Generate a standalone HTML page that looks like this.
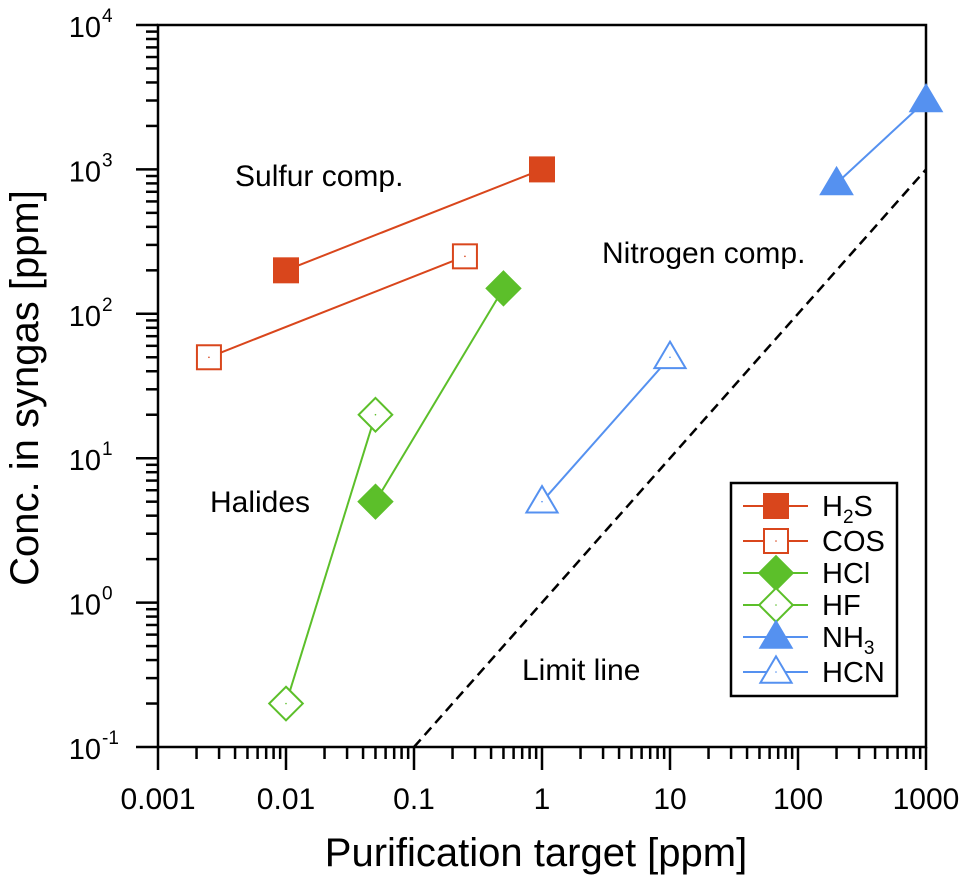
<!DOCTYPE html>
<html><head><meta charset="utf-8"><style>
body{margin:0;background:#fff}
svg{display:block;font-family:"Liberation Sans",Arial,sans-serif}
</style></head><body>
<svg id="chart" width="963" height="883" viewBox="0 0 963 883"></svg>
<script>
const xTickVals=[0.001,0.01,0.1,1,10,100,1000];
const xTickLabels=["0.001","0.01","0.1","1","10","100","1000"];
const yTickExps=[-1,0,1,2,3,4];
const seriesNames=["H2S","COS","HCl","HF","NH3","HCN"];
const h2sX=[0.01,1], h2sY=[200,1000];
const cosX=[0.0025,0.25], cosY=[50,250];
const hclX=[0.05,0.5], hclY=[5,150];
const hfX=[0.01,0.05], hfY=[0.2,20];
const nh3X=[200,1000], nh3Y=[800,3000];
const hcnX=[1,10], hcnY=[5,50];
const limitX=[0.1,1000], limitY=[0.1,1000];

const L=158,R=926,T=25,B=747;
const NS="http://www.w3.org/2000/svg";
const svg=document.getElementById('chart');
function xs(v){return L+(Math.log10(v)+3)/6*(R-L);}
function ys(v){return B-(Math.log10(v)+1)/5*(B-T);}
function mk(tag,attrs,parent){const e=document.createElementNS(NS,tag);for(const k in attrs)e.setAttribute(k,attrs[k]);(parent||svg).appendChild(e);return e;}
const OR="#d9461c",GR="#5cbf2a",BL="#5591f0";

const ticks=mk('g',{});


for(let d=-3;d<3;d++){for(let m=1;m<10;m++){const v=m*Math.pow(10,d);const x=xs(v);mk('line',{x1:x,x2:x,y1:B,y2:B+(m==1?23:12),stroke:'#000','stroke-width':2.5},ticks);}}
mk('line',{x1:R,x2:R,y1:B,y2:B+23,stroke:'#000','stroke-width':2.5},ticks);
for(let d=-1;d<4;d++){for(let m=1;m<10;m++){const v=m*Math.pow(10,d);const y=ys(v);mk('line',{x1:L,x2:L-(m==1?22:12),y1:y,y2:y,stroke:'#000','stroke-width':2.5},ticks);}}
mk('line',{x1:L,x2:L-22,y1:T,y2:T,stroke:'#000','stroke-width':2.5},ticks);

const frame=mk('rect',{x:L,y:T,width:R-L,height:B-T,fill:'none',stroke:'#000','stroke-width':2.5});



xTickVals.forEach((v,i)=>{const t=mk('text',{x:xs(v),y:809,'font-size':30,'text-anchor':'middle'});t.textContent=xTickLabels[i];

});
yTickExps.forEach(e=>{const y=ys(Math.pow(10,e));const t=mk('text',{x:101,y:y+12,'font-size':29,'text-anchor':'end'});t.textContent='10';


const s=mk('text',{x:102,y:y-3,'font-size':19});s.textContent=String(e);});

const xt=mk('text',{x:(L+R)/2-6,y:866,'font-size':40,'text-anchor':'middle'});xt.textContent='Purification target [ppm]';


const yt=mk('text',{x:0,y:0,'font-size':40,'text-anchor':'middle',transform:'translate(38,388) rotate(-90)'});yt.textContent='Conc. in syngas [ppm]';



const ll=mk('line',{x1:xs(limitX[0]),y1:ys(limitY[0]),x2:xs(limitX[1]),y2:ys(limitY[1]),stroke:'#000','stroke-width':2.5,'stroke-dasharray':'10,6'});



function marker(g,type,cx,cy,color,filled,s){
 const fill=filled?color:'#fff';
 if(type=='sq') mk('rect',{x:cx-s,y:cy-s,width:2*s,height:2*s,fill:fill,stroke:color,'stroke-width':2},g);
 else if(type=='di') mk('polygon',{points:`${cx},${cy-s*1.4} ${cx+s*1.4},${cy} ${cx},${cy+s*1.4} ${cx-s*1.4},${cy}`,fill:fill,stroke:color,'stroke-width':2},g);
 else mk('polygon',{points:`${cx},${cy-s*1.3} ${cx+s*1.3},${cy+s*0.9} ${cx-s*1.3},${cy+s*0.9}`,fill:fill,stroke:color,'stroke-width':2},g);
 if(!filled) mk('circle',{cx:cx,cy:cy,r:0.8,fill:color},g);
}
const series=[[h2sX,h2sY,'sq',OR,true],[cosX,cosY,'sq',OR,false],[hclX,hclY,'di',GR,true],[hfX,hfY,'di',GR,false],[nh3X,nh3Y,'tr',BL,true],[hcnX,hcnY,'tr',BL,false]];
series.forEach((s,i)=>{
 const g=mk('g',{});
 
 
 mk('polyline',{points:s[0].map((x,j)=>xs(x)+','+ys(s[1][j])).join(' '),fill:'none',stroke:s[3],'stroke-width':2},g);
 s[0].forEach((x,j)=>marker(g,s[2],xs(x),ys(s[1][j]),s[3],s[4],12));
});

[['Sulfur comp.',235,186],['Nitrogen comp.',602,263],['Halides',210,512],['Limit line',522,680]].forEach(a=>{
 const t=mk('text',{x:a[1],y:a[2],'font-size':30});t.textContent=a[0];
 
 
});

const lg=mk('g',{});


mk('rect',{x:731,y:483,width:166,height:213,fill:'#fff',stroke:'#000','stroke-width':2.5},lg);
const lrows=[506,541,573,605,637,672];
const llabels=[['H','2','S'],['COS'],['HCl'],['HF'],['NH','3',''],['HCN']];
series.forEach((s,i)=>{
 const y=lrows[i];
 const e=mk('g',{},lg);
 
 
 mk('line',{x1:743,x2:808,y1:y,y2:y,stroke:s[3],'stroke-width':2},e);
 marker(e,s[2],776,y,s[3],s[4],12);
 const t=mk('text',{x:822,y:y+10,'font-size':29},e);
 const lb=llabels[i];
 if(lb.length==1) t.textContent=lb[0];
 else{t.appendChild(document.createTextNode(lb[0]));const sub=mk('tspan',{'font-size':19,dy:7},t);sub.textContent=lb[1];if(lb[2]){const r=mk('tspan',{dy:-7},t);r.textContent=lb[2];}}
});
</script>
</body></html>
